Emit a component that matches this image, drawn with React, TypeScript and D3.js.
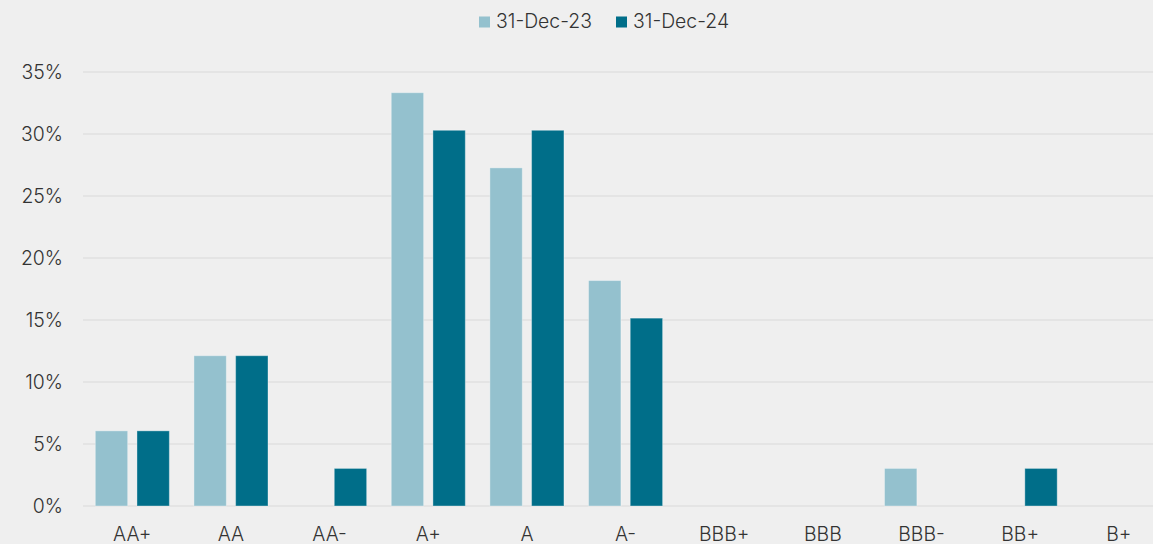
import React from "react";
import * as d3 from "d3";

const categories = ["AA+", "AA", "AA-", "A+", "A", "A-", "BBB+", "BBB", "BBB-", "BB+", "B+"];
const seriesNames = ["31-Dec-23", "31-Dec-24"];
const dec23 = [6.06, 12.12, 0, 33.33, 27.27, 18.18, 0, 0, 3.03, 0, 0];
const dec24 = [6.06, 12.12, 3.03, 30.3, 30.3, 15.15, 0, 0, 0, 3.03, 0];
const yTicks = [0, 5, 10, 15, 20, 25, 30, 35];
const colors = ["#94c1ce", "#006e89"];

const W = 1153;
const H = 544;
const FONT = "Inter, 'Liberation Sans', sans-serif";
const FS = 19.4;

export default function App() {
  const left = 83;
  const step = 98.65;
  const x = d3.scaleBand<string>().domain(categories).range([left, left + step * categories.length]).paddingInner(0).paddingOuter(0);
  const inner = d3.scaleBand<number>().domain([0, 1]).range([0, step]).paddingInner(0.223).paddingOuter(0.295);
  const y = d3.scaleLinear().domain([0, 35]).range([506, 72]);
  const series = [dec23, dec24];

  return (
    <svg width={W} height={H} style={{ position: "absolute", left: 0, top: 0, display: "block", background: "#efefef" }}>
      <rect x={0} y={0} width={W} height={H} fill="#efefef" />
      {yTicks.map((t) => (
        <g key={t}>
          <line x1={left} x2={W} y1={y(t)} y2={y(t)} stroke="#d9d9d9" strokeWidth={1} />
          <text x={63} y={y(t) + 7} textAnchor="end" fontFamily={FONT} fontWeight={300} fontSize={FS} fill="#333">
            {t}%
          </text>
        </g>
      ))}
      {series.map((vals, si) =>
        vals.map((v, i) =>
          v > 0 ? (
            <rect
              key={`${si}-${i}`}
              x={(x(categories[i]) as number) + (inner(si) as number)}
              y={y(v)}
              width={inner.bandwidth()}
              height={y(0) - y(v)}
              fill={colors[si]}
              stroke="rgba(255,255,255,0.35)"
              strokeWidth={1}
            />
          ) : null
        )
      )}
      {categories.map((c) => (
        <text key={c} x={(x(c) as number) + step / 2} y={541} textAnchor="middle" fontFamily={FONT} fontWeight={300} fontSize={FS} fill="#333">
          {c}
        </text>
      ))}
      {seriesNames.map((n, i) => {
        const lx = [479, 616][i];
        return (
          <g key={n}>
            <rect x={lx} y={16.5} width={11} height={11} fill={colors[i]} />
            <text x={lx + 17} y={28} fontFamily={FONT} fontWeight={300} fontSize={FS} fill="#333">
              {n}
            </text>
          </g>
        );
      })}
    </svg>
  );
}
